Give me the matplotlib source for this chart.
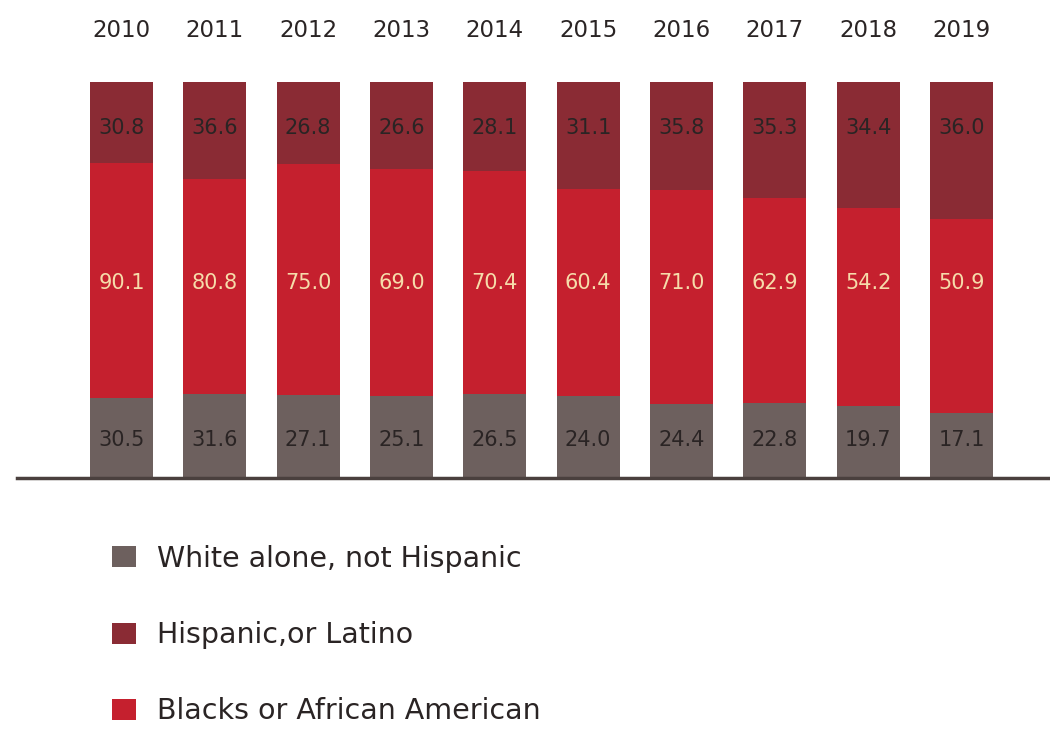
import numpy as np
import matplotlib
matplotlib.use("Agg")
import matplotlib.pyplot as plt

years = ["2010", "2011", "2012", "2013", "2014", "2015", "2016", "2017", "2018", "2019"]
white = [30.5, 31.6, 27.1, 25.1, 26.5, 24.0, 24.4, 22.8, 19.7, 17.1]
black = [90.1, 80.8, 75.0, 69.0, 70.4, 60.4, 71.0, 62.9, 54.2, 50.9]
hispanic = [30.8, 36.6, 26.8, 26.6, 28.1, 31.1, 35.8, 35.3, 34.4, 36.0]
series_names = ["White alone, not Hispanic", "Hispanic,or Latino", "Blacks or African American"]

c_white = "#6d605e"
c_hisp = "#8a2b34"
c_black = "#c5202e"
dark_txt = "#2a2424"
light_txt = "#f6dcaa"

plt.rcParams["font.family"] = ["DejaVu Sans"]

W, H = 1050, 733
fig = plt.figure(figsize=(W / 100, H / 100), dpi=100)
fig.patch.set_facecolor("white")

# axes spans the baseline width; y runs 0..100 (share of each year's total)
base_px, top_px = 478, 82
left_px, right_px = 17, 1050
ax = fig.add_axes([left_px / W, (H - base_px) / H, (right_px - left_px) / W, (base_px - top_px) / H])

wv = np.array(white)
bv = np.array(black)
hv = np.array(hispanic)
tot = wv + bv + hv
wp = wv / tot * 100
bp = bv / tot * 100
hp = hv / tot * 100

step_px = (961.5 - 121.5) / 9
x = np.arange(len(years))
x0 = -(121.5 - left_px) / step_px
ax.set_xlim(x0, x0 + (right_px - left_px) / step_px)
ax.set_ylim(0, 100)
bw = 63 / step_px

ax.bar(x, wp, bw, color=c_white, label=series_names[0])
ax.bar(x, bp, bw, bottom=wp, color=c_black, label=series_names[2])
ax.bar(x, hp, bw, bottom=wp + bp, color=c_hisp, label=series_names[1])

for i in range(len(years)):
    ax.text(x[i], 9.6, f"{white[i]:.1f}", ha="center", va="center", fontsize=15, color=dark_txt)
    ax.text(x[i], 49.2, f"{black[i]:.1f}", ha="center", va="center", fontsize=15, color=light_txt)
    ax.text(x[i], 88.4, f"{hispanic[i]:.1f}", ha="center", va="center", fontsize=15, color=dark_txt)
    ax.text(x[i], 113.1, years[i], ha="center", va="center", fontsize=16.5, color=dark_txt, clip_on=False)

ax.axhline(0, color="#4a403e", lw=2.5, zorder=5, clip_on=False)
for s in ax.spines.values():
    s.set_visible(False)
ax.set_xticks([])
ax.set_yticks([])

h, l = ax.get_legend_handles_labels()
order = [0, 2, 1]
leg = fig.legend([h[k] for k in order], [l[k] for k in order], loc="upper left",
                 bbox_to_anchor=(86 / W, 1 - 519 / H), frameon=False, fontsize=20.5,
                 labelspacing=1.7, handlelength=0.85, handleheight=0.75, handletextpad=0.75,
                 labelcolor=dark_txt)

fig.savefig("out.png", dpi=100, facecolor="white")
